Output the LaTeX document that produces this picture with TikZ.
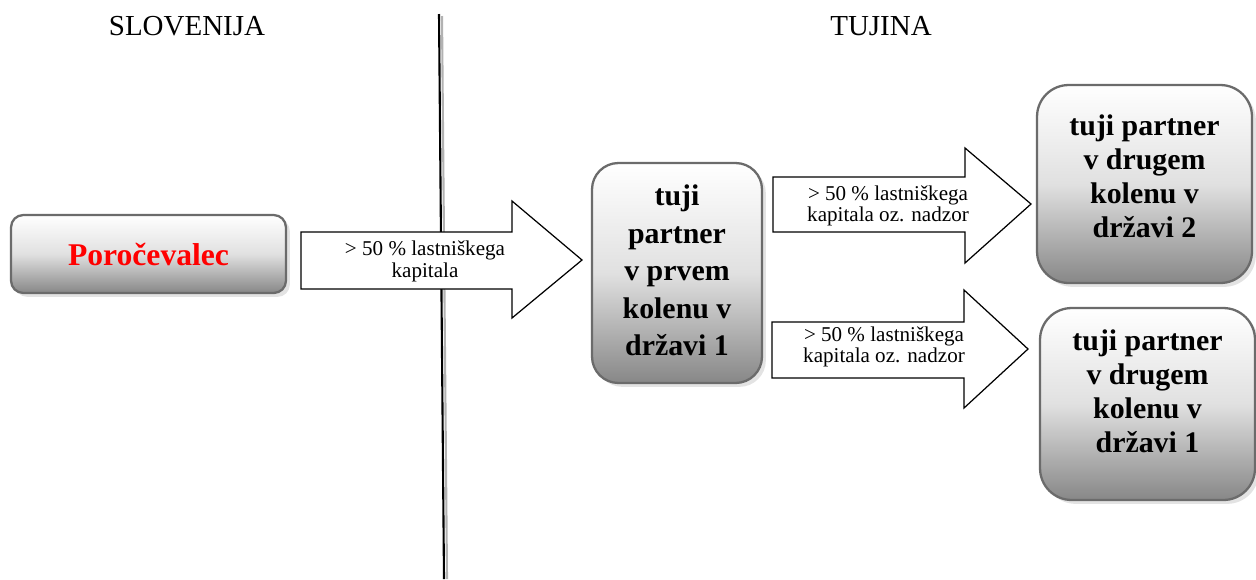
\documentclass[tikz,border=0pt]{standalone}
\usepackage{fontspec}
\setmainfont{Liberation Serif}
\usetikzlibrary{shadows}

\tikzset{
  partnerbox/.style={rectangle, draw=black!58, line width=1.3pt,
    top color=white, bottom color=black!47, middle color=black!12,
    drop shadow={shadow xshift=2.2pt, shadow yshift=-2.2pt, fill=black!22},
    align=center},
  blockarrow/.style={draw=black, line width=0.7pt, fill=white},
  arrowtext/.style={align=center, inner sep=0pt}
}

\begin{document}
\begin{tikzpicture}[x=0.02cm, y=-0.02cm]
      \useasboundingbox (0,0) rectangle (1256,579);
      % headings
      \node[font=\fontsize{16.5}{18}\selectfont] (si) at (187,26) {SLOVENIJA};
      \node[font=\fontsize{16.5}{18}\selectfont] (tu) at (881,26) {TUJINA};
      % border line
      \draw[black!30, line width=1.2pt] (442,16) -- (447,579);
      \draw[line width=1.2pt] (439,14) -- (444,579);
      % boxes
      \node[partnerbox, rounded corners=7pt, minimum width=5.5cm, minimum height=1.56cm,
        font=\bfseries\fontsize{18}{20}\selectfont, text=red]
        (rep) at (148.5,254) {Poročevalec};
      \node[partnerbox, rounded corners=15pt, minimum width=3.4cm, minimum height=4.4cm,
        font=\bfseries\fontsize{17}{21.3}\selectfont, text depth=3pt]
        (tp1) at (677,273) {tuji\\partner\\v prvem\\kolenu v\\državi 1};
      \node[partnerbox, rounded corners=18pt, minimum width=4.3cm, minimum height=3.96cm,
        font=\bfseries\fontsize{17}{19.3}\selectfont, text depth=9pt]
        (tp2) at (1144.5,184) {tuji partner\\v drugem\\kolenu v\\državi 2};
      \node[partnerbox, rounded corners=18pt, minimum width=4.3cm, minimum height=3.84cm,
        font=\bfseries\fontsize{17}{19.3}\selectfont, text depth=15pt]
        (tp3) at (1147.5,404) {tuji partner\\v drugem\\kolenu v\\državi 1};
      % arrows
      \draw[blockarrow] (301,232) -- (512,232) -- (512,201) -- (582,260)
        -- (512,318) -- (512,289) -- (301,289) -- cycle;
      \node[arrowtext, font=\fontsize{12}{12.5}\selectfont] (a1) at (425,261)
        {> 50 \% lastniškega\\kapitala};
      \draw[blockarrow] (773,177) -- (965,177) -- (965,148) -- (1031,204)
        -- (965,263) -- (965,232) -- (773,232) -- cycle;
      \node[arrowtext, font=\fontsize{12}{12}\selectfont] (a2) at (888,206)
        {> 50 \% lastniškega\\kapitala oz. nadzor};
      \draw[blockarrow] (772,322) -- (964,322) -- (964,290) -- (1028,349)
        -- (964,408) -- (964,378) -- (772,378) -- cycle;
      \node[arrowtext, font=\fontsize{12}{12}\selectfont] (a3) at (884,347)
        {> 50 \% lastniškega\\kapitala oz. nadzor};
    \end{tikzpicture}
\end{document}
